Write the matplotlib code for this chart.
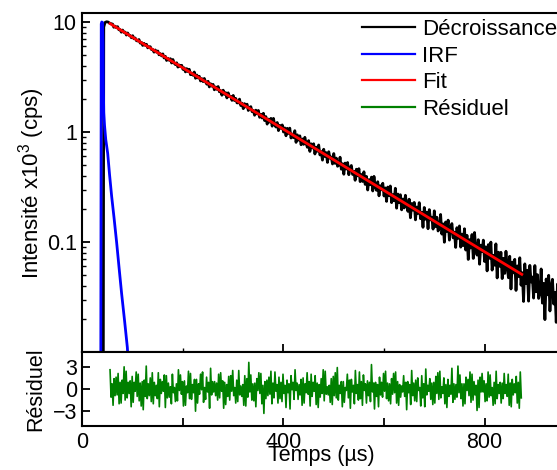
import numpy as np
import matplotlib
matplotlib.use("Agg")
import matplotlib.pyplot as plt
from matplotlib.lines import Line2D
from matplotlib.ticker import FixedLocator, LogLocator, NullFormatter

plt.rcParams['font.family'] = ['Liberation Sans', 'DejaVu Sans']
plt.rcParams['mathtext.fontset'] = 'custom'
plt.rcParams['mathtext.rm'] = 'Liberation Sans'

# ---------------- data ----------------
decay_time_head = [41.5, 42.5, 45, 48, 51, 55]
decay_vals_head = [0.004, 9.0, 9.9, 10.05, 10.0, 9.72]
decay_step_start = 60      # µs
decay_step = 2.5           # µs
decay_vals = [
    9.57, 8.96, 9.17, 8.87, 9.07, 8.50, 8.54, 8.08, 8.45, 8.03, 8.10, 7.61, 7.95, 7.58, 7.54, 7.19, 7.51, 7.04, 7.15, 6.77,
    6.72, 6.93, 6.43, 6.53, 6.12, 6.40, 6.13, 6.27, 5.82, 5.96, 5.96, 5.61, 5.63, 5.32, 5.57, 5.31, 5.45, 5.03, 5.16, 4.92,
    5.13, 4.71, 4.88, 4.47, 4.68, 4.49, 4.64, 4.24, 4.56, 4.23, 4.10, 4.26, 3.89, 4.07, 3.93, 4.04, 3.71, 3.83, 3.52, 3.77,
    3.54, 3.72, 3.32, 3.43, 3.28, 3.51, 3.08, 3.30, 3.10, 3.21, 2.91, 3.06, 2.87, 3.07, 2.85, 2.72, 2.89, 2.57, 2.75, 2.61,
    2.71, 2.42, 2.57, 2.44, 2.59, 2.32, 2.38, 2.16, 2.40, 2.20, 2.28, 2.04, 2.27, 2.10, 2.11, 1.94, 2.15, 1.93, 2.02, 1.84,
    1.84, 1.99, 1.74, 1.83, 1.63, 1.81, 1.69, 1.79, 1.57, 1.67, 1.70, 1.53, 1.57, 1.42, 1.58, 1.46, 1.57, 1.36, 1.45, 1.34,
    1.48, 1.27, 1.38, 1.18, 1.31, 1.23, 1.33, 1.13, 1.33, 1.16, 1.11, 1.22, 1.03, 1.15, 1.08, 1.16, 1.00, 1.09, 0.924, 1.08,
    0.970, 1.084, 0.882, 0.959, 0.888, 1.028, 0.805, 0.942, 0.844, 0.923, 0.766, 0.864, 0.772, 0.895, 0.785, 0.726, 0.835, 0.666, 0.781, 0.716,
    0.782, 0.631, 0.728, 0.669, 0.762, 0.619, 0.665, 0.555, 0.697, 0.599, 0.649, 0.529, 0.662, 0.578, 0.593, 0.512, 0.637, 0.519, 0.579, 0.488,
    0.499, 0.590, 0.459, 0.515, 0.413, 0.522, 0.461, 0.528, 0.409, 0.475, 0.496, 0.411, 0.439, 0.364, 0.459, 0.399, 0.464, 0.354, 0.411, 0.355,
    0.435, 0.334, 0.395, 0.297, 0.369, 0.332, 0.389, 0.291, 0.395, 0.317, 0.295, 0.353, 0.263, 0.325, 0.298, 0.342, 0.262, 0.310, 0.234, 0.316,
    0.264, 0.323, 0.228, 0.269, 0.237, 0.308, 0.203, 0.273, 0.228, 0.269, 0.196, 0.246, 0.204, 0.266, 0.216, 0.190, 0.245, 0.166, 0.224, 0.195,
    0.229, 0.159, 0.208, 0.182, 0.228, 0.163, 0.186, 0.136, 0.206, 0.161, 0.187, 0.132, 0.197, 0.159, 0.168, 0.131, 0.192, 0.138, 0.168, 0.126,
    0.134, 0.178, 0.118, 0.146, 0.0995, 0.152, 0.125, 0.158, 0.104, 0.136, 0.147, 0.109, 0.123, 0.0893, 0.135, 0.108, 0.140, 0.0898, 0.118, 0.0927,
    0.132, 0.0845, 0.115, 0.0694, 0.105, 0.0883, 0.117, 0.0709, 0.122, 0.0857, 0.0760, 0.105, 0.0628, 0.0937, 0.0817, 0.104, 0.0665, 0.0904, 0.0546, 0.0947,
    0.0711, 0.0998, 0.0555, 0.0756, 0.0615, 0.0962, 0.0471, 0.0808, 0.0601, 0.0806, 0.0465, 0.0711, 0.0518, 0.0824, 0.0590, 0.0473, 0.0742, 0.0374, 0.0657, 0.0524,
    0.0696, 0.0363, 0.0606, 0.0485, 0.0719, 0.0405, 0.0526, 0.0288, 0.0633, 0.0420, 0.0554, 0.0290, 0.0613, 0.0433, 0.0481, 0.0309, 0.0611, 0.0353, 0.0505, 0.0307,
    0.0345, 0.0569, 0.0278, 0.0421, 0.0197, 0.0461, 0.0331, 0.0498, 0.0236, 0.0399, 0.0458, 0.0273, 0.0349, 0.0186, 0.0415, 0.0287, 0.0447,
]

irf_time = [36.5, 37.5, 38.5, 40, 41.2, 41.8, 42.5, 44, 46.5, 50.3, 54, 58.2,
            63, 68.2, 73, 78, 84, 89.4, 92]
irf_vals = [0.004, 9.6, 10.0, 9.9, 6.5, 2.4, 1.5, 1.15, 0.85, 0.64, 0.41, 0.26,
            0.165, 0.098, 0.058, 0.034, 0.019, 0.011, 0.007]

fit_time = [55, 200, 400, 600, 800, 874]
fit_vals = [9.67, 3.82, 1.06, 0.294, 0.0815, 0.0508]

# residual trace: alternating upper / lower excursions, every 2 µs
resid_start = 55   # µs
resid_step = 2     # µs
resid_upper = [
    2.6, 0.7, 1.4, 1.6, 2.1, 0.9, 1.2, 3.0, 2.4, 0.9, 1.1, 1.7, 0.9, 2.3, 2.0, 0.8, 1.0, 1.2, 3.1, 0.7,
    1.5, 2.2, 0.9, 0.5, 2.2, 1.3, 1.0, 1.9, 1.8, 0.8, 0.3, 2.0, 0.2, 0.7, 2.6, 1.9, 1.0, 1.1, 0.4, 2.4,
    2.1, 0.6, 1.3, 1.3, 0.7, 2.0, 2.3, 0.2, 1.6, 0.9, 2.8, 1.0, 1.0, 0.8, 2.0, 2.2, 1.1, 0.9, 0.6, 1.7,
    1.8, 2.5, 0.2, 1.2, 2.5, 0.4, 0.6, 1.8, 1.4, 3.6, 1.9, 0.7, 0.8, 1.4, 2.2, 2.1, 0.5, 1.0, 1.2, 1.6,
    2.4, 0.8, 2.3, 0.6, 1.6, 0.9, 2.0, 0.5, 1.2, 0.7, 1.8, 0.9, 2.6, 0.8, 0.6, 1.3, 1.5, 0.7, 2.2, 1.0,
    2.0, 0.9, 1.8, 0.8, 0.6, 1.4, 2.6, 2.4, 0.3, 0.5, 1.4, 1.7, 2.2, 2.9, 0.5, 1.0, 1.0, 0.2, 2.0, 1.2,
    1.3, 0.5, 2.5, 0.6, 2.3, 1.0, 1.9, 0.7, 1.1, 0.9, 3.3, 0.8, 0.9, 0.6, 1.6, 0.9, 2.1, 2.4, 0.8, 0.7,
    1.4, 2.1, 2.3, 1.0, 0.6, 0.4, 1.8, 0.9, 1.0, 0.6, 2.5, 0.8, 1.2, 1.5, 0.2, 1.8, 0.7, 2.7, 0.5, 1.4,
    0.8, 0.9, 1.7, 2.2, 2.4, 0.3, 1.5, 0.6, 1.3, 0.5, 2.8, 0.7, 0.6, 3.1, 1.9, 0.7, 0.7, 1.6, 1.3, 2.3,
    2.0, 1.0, 0.5, 1.2, 1.6, 2.1, 1.1, 0.7, 2.3, 1.9, 0.2, 0.9, 2.4, 0.6, 0.9, 0.8, 2.1, 0.6, 2.0, 0.8,
    1.3, 0.7, 1.7, 0.9, 2.3,
]
resid_lower = [
    -1.1, -2.2, -0.9, -0.8, -2.0, -1.9, -0.6, -1.5, -1.2, -0.6, -2.4, -1.8, -0.3, -1.0, -1.6, -2.3, -2.8, -1.0, -1.3, -0.9,
    -1.7, -2.0, -0.9, -1.3, -2.4, -0.6, -0.3, -2.5, -1.2, -1.1, -2.0, -0.5, -1.7, -1.6, -0.2, -0.7, -2.3, -2.2, -0.5, -1.3,
    -1.4, -0.5, -3.0, -1.9, -0.7, -0.1, -1.8, -1.4, -0.4, -2.6, -0.8, -0.4, -0.9, -1.5, -1.2, -0.3, -2.6, -2.1, -1.0, -1.5,
    -0.3, -0.9, -1.9, -1.7, -0.8, -1.0, -2.2, -2.3, -1.1, -0.4, -1.5, -1.6, -2.4, -0.2, -0.6, -2.0, -3.3, -1.3, -0.9, -0.7,
    -2.0, -1.2, -0.3, -1.9, -1.3, -1.7, -0.6, -2.5, -0.5, -2.7, -0.1, -1.4, -0.2, -1.4, -0.8, -2.2, -1.9, -0.5, -0.7, -2.3,
    -1.0, -0.3, -2.1, -2.5, -1.1, -0.6, -1.6, -0.7, -0.8, -1.8, -2.1, -0.9, -1.2, -1.5, -0.6, -2.4, -1.8, -0.2, -1.2, -2.6,
    -0.4, -2.0, -0.6, -1.5, -1.3, -2.2, -0.2, -1.9, -0.9, -1.7, -0.4, -2.7, -1.0, -2.4, -0.8, -1.1, -0.3, -1.3, -1.6, -2.0,
    -0.7, -0.5, -1.9, -2.2, -1.1, -0.4, -1.0, -2.8, -0.5, -2.1, -0.9, -1.6, -1.7, -0.2, -2.3, -1.2, -2.4, -0.8, -0.3, -1.4,
    -2.1, -1.9, -0.6, -1.4, -1.2, -0.6, -2.0, -2.5, -1.0, -0.7, -1.8, -1.4, -1.1, -0.5, -1.3, -2.3, -2.0, -0.2, -0.9, -1.8,
    -1.5, -0.8, -2.9, -2.5, -0.4, -0.4, -1.7, -1.6, -1.1, -0.9, -2.2, -2.0, -1.3, -0.6, -1.9, -1.3, -0.6, -1.0, -2.2, -2.4,
    -0.8, -0.5, -1.9, -2.6, -1.2,
]

main_yticks = [0.1, 1, 10]
main_yticklabels = ['0.1', '1', '10']
resid_yticks = [-3, 0, 3]
xticks = [0, 400, 800]
labels = ['Décroissance', 'IRF', 'Fit', 'Résiduel']
colors = ['black', '#0000FF', '#FF0000', '#008000']

decay_time = np.concatenate([decay_time_head,
                             decay_step_start + decay_step * np.arange(len(decay_vals))])
decay_all = np.concatenate([decay_vals_head, decay_vals])
resid_vals = np.column_stack([resid_upper, resid_lower]).ravel()
resid_time = resid_start + resid_step * np.arange(len(resid_vals))

# ---------------- figure ----------------
W, H = 557, 470
fig = plt.figure(figsize=(W / 100, H / 100), dpi=100)
left_px, right_px = 82.4, 560
top_px, mid_px, bot_px = 13.3, 352, 426
ax = fig.add_axes([left_px / W, 1 - mid_px / H, (right_px - left_px) / W, (mid_px - top_px) / H])
axr = fig.add_axes([left_px / W, 1 - bot_px / H, (right_px - left_px) / W, (bot_px - mid_px) / H], sharex=ax)

FS = 15.5
ax.plot(decay_time, decay_all, color=colors[0], lw=2.0)
ax.plot(irf_time, irf_vals, color=colors[1], lw=2.0)
ax.plot(fit_time, fit_vals, color=colors[2], lw=2.0)
axr.plot(resid_time, resid_vals, color=colors[3], lw=1.2)

ax.set_yscale('log')
ax.set_ylim(0.01, 12)
ax.set_xlim(0, 950)
ax.yaxis.set_major_locator(FixedLocator(main_yticks))
ax.set_yticklabels(main_yticklabels)
ax.yaxis.set_minor_locator(LogLocator(base=10, subs=np.arange(2, 10)))
ax.yaxis.set_minor_formatter(NullFormatter())
ax.set_xticks([200, 400, 600, 800])
ax.tick_params(axis='x', labelbottom=False)

axr.set_ylim(-5, 5)
axr.set_yticks(resid_yticks)
axr.set_xticks([200, 400, 600, 800], minor=True)
axr.set_xticks(xticks)
axr.set_xticklabels([str(v) for v in xticks])

for a in (ax, axr):
    a.spines['right'].set_visible(False)
    for s in a.spines.values():
        s.set_linewidth(1.5)
    a.tick_params(which='major', direction='in', length=6, width=1.3,
                  labelsize=FS, top=False, right=False, pad=4)
    a.tick_params(which='minor', direction='in', length=3, width=1.0,
                  top=False, right=False)
axr.tick_params(axis='x', which='minor', length=6, width=1.3)

ax.set_ylabel('Intensité x10$^3$ (cps)', fontsize=16)
ax.yaxis.set_label_coords(-0.075, 0.5)
axr.set_ylabel('Résiduel', fontsize=FS)
axr.yaxis.set_label_coords(-0.075, 0.5)
axr.set_xlabel('Temps (µs)', fontsize=FS)
axr.xaxis.set_label_coords(0.5, -0.25)

handles = [Line2D([], [], color=c, lw=1.6) for c in colors]
ax.legend(handles, labels, loc='upper left', bbox_to_anchor=(0.585, 0.983),
          frameon=False, fontsize=16, handlelength=2.4, handletextpad=0.3,
          labelspacing=0.25, borderpad=0, borderaxespad=0)

fig.savefig('out.png', dpi=100)
